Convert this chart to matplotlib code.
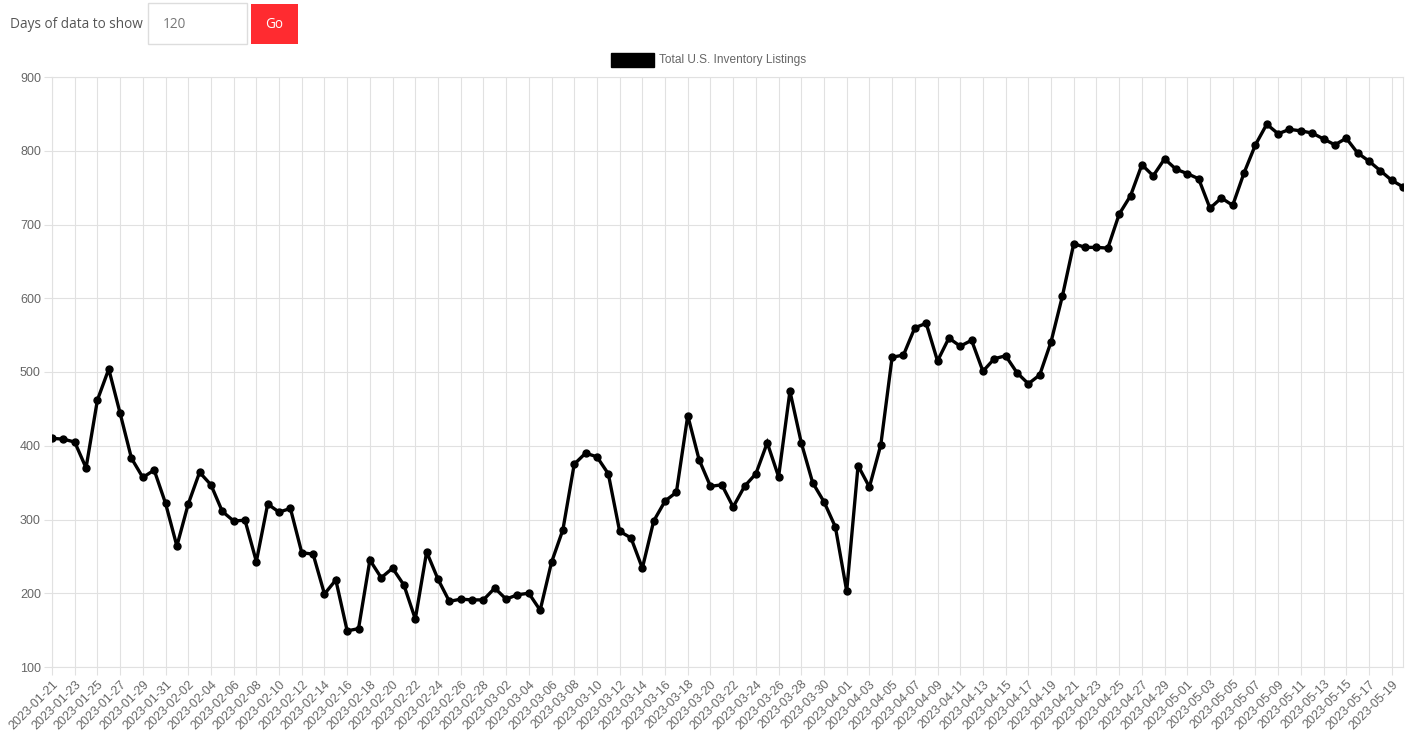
import matplotlib
matplotlib.use("Agg")
import matplotlib.pyplot as plt
from matplotlib.patches import Rectangle
import pandas as pd

dates = pd.date_range("2023-01-21", "2023-05-20", freq="D").strftime("%Y-%m-%d").tolist()
listings = [
    410, 409, 405, 370, 462, 504, 444, 383, 357, 367,
    322, 264, 321, 364, 347, 311, 298, 299, 243, 321,
    310, 315, 255, 253, 199, 218, 149, 152, 245, 221,
    234, 211, 165, 256, 219, 189, 192, 191, 191, 207,
    192, 198, 200, 177, 242, 286, 375, 390, 385, 362,
    284, 275, 234, 298, 325, 337, 441, 381, 345, 347,
    317, 345, 362, 404, 358, 474, 404, 350, 324, 290,
    203, 373, 344, 401, 520, 523, 560, 566, 515, 546,
    535, 543, 501, 518, 522, 499, 484, 496, 541, 603,
    674, 669, 669, 668, 714, 739, 781, 766, 789, 775,
    769, 762, 722, 736, 726, 770, 808, 836, 823, 829,
    827, 824, 816, 808, 817, 797, 786, 773, 760, 751,
]
series_label = "Total U.S. Inventory Listings"
y_ticks = [100, 200, 300, 400, 500, 600, 700, 800, 900]

W, H = 1416, 738
fig = plt.figure(figsize=(W / 100, H / 100), dpi=100)
plt.rcParams['font.family'] = ['Open Sans', 'DejaVu Sans']

def fx(px):
    return px / W

def fy(py):
    return 1 - py / H

ax = fig.add_axes([fx(52), fy(667), fx(1403) - fx(52), fy(77) - fy(667)])
x = list(range(len(dates)))
ax.plot(x, listings, color="black", lw=2.4, marker="o", ms=5.0, zorder=3,
        solid_joinstyle="miter")
ax.set_xlim(0, len(dates) - 1)
ax.set_ylim(100, 900)
ax.set_yticks(y_ticks)
ax.set_yticklabels([str(v) for v in y_ticks], fontsize=9, color="#666666",
                   family=["Liberation Sans", "DejaVu Sans"])
xt = x[::2]
ax.set_xticks(xt)
ax.set_xticklabels([dates[i] for i in xt], rotation=45, ha="right",
                   rotation_mode="anchor", fontsize=9, color="#666666",
                   family=["Liberation Sans", "DejaVu Sans"])
ax.grid(True, color="#e1e1e1", lw=0.8)
ax.set_axisbelow(True)
for s in ax.spines.values():
    s.set_color("#e1e1e1")
    s.set_linewidth(0.8)
ax.tick_params(axis="both", length=6, color="#e1e1e1", width=0.8, pad=2)

# legend
fig.patches.append(Rectangle((fx(611), fy(67)), fx(43), fy(53) - fy(67),
                             transform=fig.transFigure, color="black"))
fig.text(fx(659), fy(60), series_label, fontsize=8.6, color="#666666",
         va="center", ha="left", family=["Liberation Sans", "DejaVu Sans"])

# header controls
fig.text(fx(10), fy(25), "Days of data to show", fontsize=9.8, color="#555555",
         va="center", ha="left")
fig.patches.append(Rectangle((fx(147.5), fy(44)), fx(99), fy(3) - fy(44),
                             transform=fig.transFigure, facecolor="white",
                             edgecolor="#dddddd", lw=1))
fig.text(fx(163), fy(25), "120", fontsize=9.8, color="#777777",
         va="center", ha="left")
fig.patches.append(Rectangle((fx(251), fy(44)), fx(47), fy(4) - fy(44),
                             transform=fig.transFigure, facecolor="#ff2b30",
                             edgecolor="none"))
fig.text(fx(274.5), fy(25), "Go", fontsize=9.8, color="white",
         va="center", ha="center")

fig.savefig("out.png", dpi=100)
